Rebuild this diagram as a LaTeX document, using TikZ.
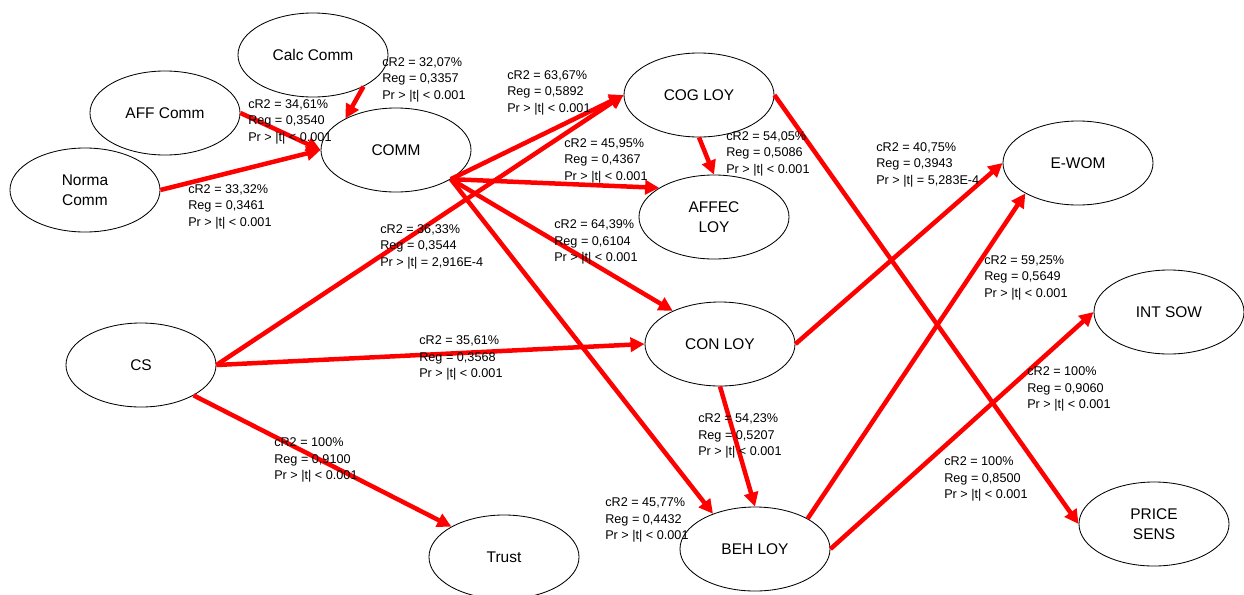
\documentclass[tikz,border=0pt]{standalone}
\usepackage{fontspec}
\setmainfont{Liberation Sans}
\usetikzlibrary{arrows.meta, shapes.geometric}

\begin{document}
\begin{tikzpicture}[
        x=0.025cm, y=-0.025cm,
        latent/.style={ellipse, draw=black, line width=0.6pt, fill=white, minimum width=3.75cm, minimum height=2.1cm, align=center, font=\fontsize{11}{14}\selectfont, inner sep=0pt},
        est/.style={anchor=north west, inner sep=0pt, align=left, font=\fontsize{9}{12}\selectfont},
        arr/.style={-{Triangle[length=10pt, width=10pt]}, line width=3.2pt, red},
    ]
        \useasboundingbox (0,0) rectangle (1244,594);

        % Antecedents
        \node[latent] (calc) at (313,55) {Calc Comm};
        \node[latent] (aff) at (165,113) {AFF Comm};
        \node[latent] (norma) at (85,190) {Norma\\Comm};
        \node[latent] (comm) at (396,150) {COMM};
        \node[latent] (cs) at (141,365) {CS};
        \node[latent] (trust) at (504,557) {Trust};

        % Loyalty stages
        \node[latent] (cog) at (699,95) {COG LOY};
        \node[latent] (affec) at (714,217) {AFFEC\\LOY};
        \node[latent] (con) at (720,344) {CON LOY};
        \node[latent] (beh) at (755,549) {BEH LOY};

        % Outcomes
        \node[latent] (ewom) at (1078,163) {E-WOM};
        \node[latent] (intsow) at (1169,312) {INT SOW};
        \node[latent] (price) at (1154,524) {PRICE\\SENS};

        % Paths
        \draw[arr] (calc.-32) -- (comm.148);
        \draw[arr] (aff.east) -- (comm.west);
        \draw[arr] (norma.east) -- (comm.west);
        \draw[arr] (comm.-28) -- (cog.west);
        \draw[arr] (comm.-28) -- (affec.152);
        \draw[arr] (comm.-28) -- (con.145);
        \draw[arr] (comm.-28) -- (beh.140);
        \draw[arr] (cs.east) -- (cog.west);
        \draw[arr] (cs.east) -- (con.west);
        \draw[arr] (cs.-30) -- (trust.150);
        \draw[arr] (cog.south) -- (affec.north);
        \draw[arr] (cog.east) -- (price.west);
        \draw[arr] (con.east) -- (ewom.west);
        \draw[arr] (con.south) -- (beh.north);
        \draw[arr] (beh.30) -- (ewom.210);
        \draw[arr] (beh.east) -- (intsow.west);

        % Estimates
        \node[est] (e-calc) at (382,57) {cR2 = 32,07\%\\Reg = 0,3357\\Pr > |t| < 0.001};
        \node[est] (e-aff) at (248,99) {cR2 = 34,61\%\\Reg = 0,3540\\Pr > |t| < 0.001};
        \node[est] (e-norma) at (188,184) {cR2 = 33,32\%\\Reg = 0,3461\\Pr > |t| < 0.001};
        \node[est] (e-cog) at (507,70) {cR2 = 63,67\%\\Reg = 0,5892\\Pr > |t| < 0.001};
        \node[est] (e-affec) at (564,138) {cR2 = 45,95\%\\Reg = 0,4367\\Pr > |t| < 0.001};
        \node[est] (e-cogaffec) at (726,131) {cR2 = 54,05\%\\Reg = 0,5086\\Pr > |t| < 0.001};
        \node[est] (e-cscog) at (380,224) {cR2 = 36,33\%\\Reg = 0,3544\\Pr > |t| = 2,916E-4};
        \node[est] (e-con) at (554,219) {cR2 = 64,39\%\\Reg = 0,6104\\Pr > |t| < 0.001};
        \node[est] (e-conewom) at (876,142) {cR2 = 40,75\%\\Reg = 0,3943\\Pr > |t| = 5,283E-4};
        \node[est] (e-behewom) at (984,255) {cR2 = 59,25\%\\Reg = 0,5649\\Pr > |t| < 0.001};
        \node[est] (e-cscon) at (419,335) {cR2 = 35,61\%\\Reg = 0,3568\\Pr > |t| < 0.001};
        \node[est] (e-trust) at (274,437) {cR2 = 100\%\\Reg = 0,9100\\Pr > |t| < 0.001};
        \node[est] (e-conbeh) at (698,413) {cR2 = 54,23\%\\Reg = 0,5207\\Pr > |t| < 0.001};
        \node[est] (e-beh) at (605,497) {cR2 = 45,77\%\\Reg = 0,4432\\Pr > |t| < 0.001};
        \node[est] (e-price) at (944,456) {cR2 = 100\%\\Reg = 0,8500\\Pr > |t| < 0.001};
        \node[est] (e-intsow) at (1027,366) {cR2 = 100\%\\Reg = 0,9060\\Pr > |t| < 0.001};
    \end{tikzpicture}
\end{document}
